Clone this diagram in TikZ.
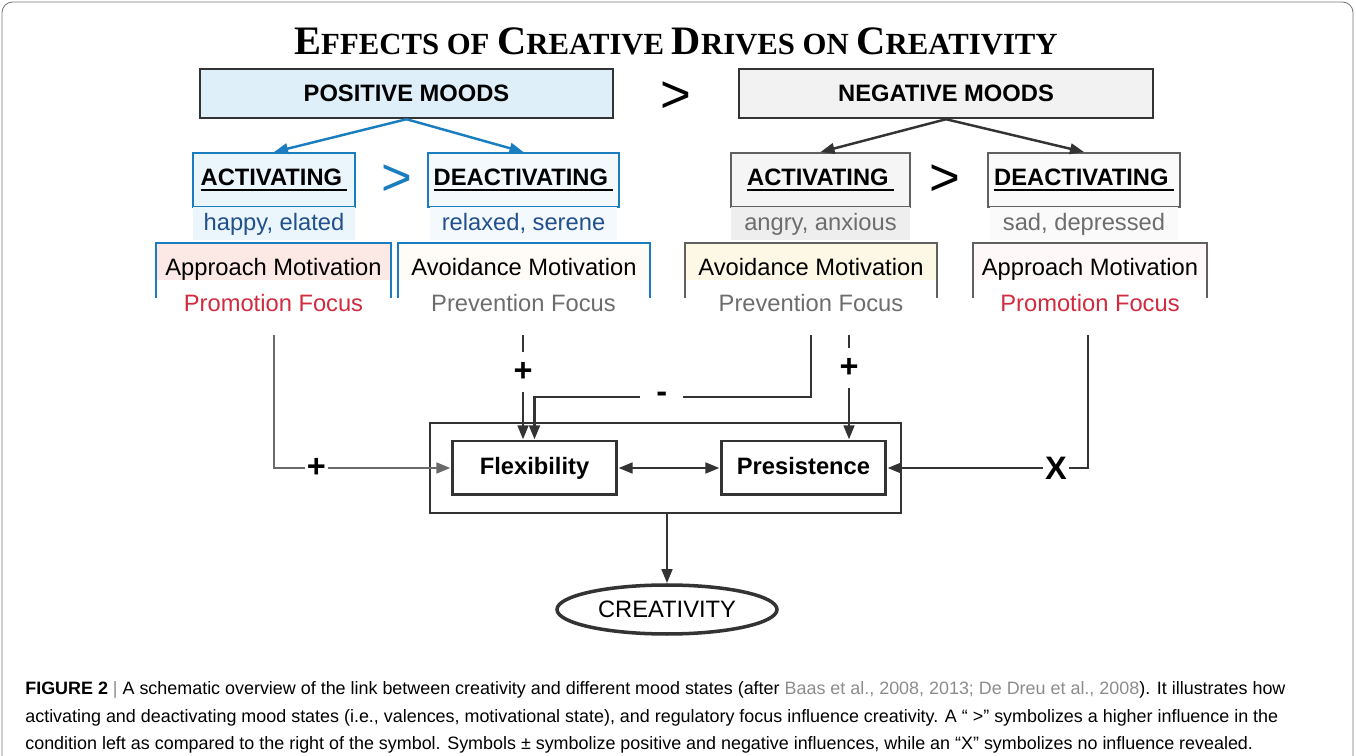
\documentclass[tikz,border=0pt]{standalone}
\usepackage{fontspec}
\setmainfont{Liberation Sans}
\newfontfamily\titlefont{Liberation Serif}
\usetikzlibrary{arrows.meta,shapes.geometric}

\definecolor{posblue}{RGB}{26,125,192}
\definecolor{posfill}{RGB}{223,239,249}
\definecolor{pactfill}{RGB}{234,245,252}
\definecolor{pdeacfill}{RGB}{243,249,253}
\definecolor{negfill}{RGB}{242,242,242}
\definecolor{nactfill}{RGB}{245,245,245}
\definecolor{nactadj}{RGB}{238,238,238}
\definecolor{ndeacfill}{RGB}{250,250,250}
\definecolor{approachpink}{RGB}{252,233,230}
\definecolor{avoidcream}{RGB}{255,252,248}
\definecolor{avoidyellow}{RGB}{253,248,229}
\definecolor{approachrose}{RGB}{254,249,248}
\definecolor{darkline}{RGB}{51,51,51}
\definecolor{midline}{RGB}{96,96,96}
\definecolor{leftline}{RGB}{106,106,106}
\definecolor{adjblue}{RGB}{33,80,140}
\definecolor{focusred}{RGB}{209,43,63}
\definecolor{focusgray}{RGB}{109,109,109}
\definecolor{citegray}{RGB}{140,140,140}
\definecolor{framegray}{RGB}{120,120,120}

% small caps by hand
\newcommand{\capword}[2]{{\fontsize{23}{26}\selectfont #1}{\fontsize{17.5}{20}\selectfont #2}}
% thick underline
\newcommand{\ulword}[1]{\setbox0\hbox{#1}\rlap{\raisebox{-3.2pt}{\rule{\wd0}{1.2pt}}}\box0}

\begin{document}
\begin{tikzpicture}[x=0.02cm,y=-0.02cm,
  >={Triangle[length=8pt,width=6pt]},
  txt/.style={font=\fontsize{13.5}{16}\selectfont},
  mood/.style={draw=darkline,line width=1.4pt,minimum height=0.98cm,font=\bfseries\fontsize{13.5}{16}\selectfont},
  valence/.style={line width=1.1pt,minimum height=1.08cm,font=\bfseries\fontsize{13.5}{16}\selectfont},
  adj/.style={txt,minimum height=0.66cm,inner sep=0pt,text height=9.8pt,text depth=1.8pt},
  motiv/.style={txt,minimum height=0.74cm,inner sep=0pt,text height=15.4pt,text depth=0pt},
  gt/.style={font=\fontsize{30}{32}\selectfont},
  stagebox/.style={draw=darkline,line width=1.7pt,minimum width=3.3cm,minimum height=1.08cm,text height=9.8pt,text depth=2.8pt,font=\bfseries\fontsize{13.5}{16}\selectfont},
  conn/.style={->,darkline,line width=1.6pt},
  sign/.style={fill=white,text=black,inner sep=1pt,font=\bfseries\fontsize{18.5}{20}\selectfont},
  captxt/.style={anchor=base west,inner sep=0pt,font=\fontsize{10.2}{12}\selectfont}
]
\useasboundingbox (0,0) rectangle (1356,756);
\draw[framegray,line width=0.5pt,rounded corners=6pt] (2,756) -- (2,2) -- (1353,2) -- (1353,756);

% title
\node[font=\titlefont\bfseries\fontsize{17.5}{20}\selectfont] (title) at (676,41)
  {\capword{E}{FFECTS} \capword{}{OF} \capword{C}{REATIVE} \capword{D}{RIVES} \capword{}{ON} \capword{C}{REATIVITY}};

% moods
\node[mood,fill=posfill,minimum width=8.26cm] (pos) at (406.5,93.5) {POSITIVE MOODS};
\node[mood,fill=negfill,minimum width=8.28cm] (neg) at (946,93.5) {NEGATIVE MOODS};
\node[gt] (gt1) at (676,97) {>};

% valence, positive side
\node[valence,draw=posblue,fill=pactfill,minimum width=3.24cm] (pact) at (274,180) {\ulword{ACTIVATING\kern3pt}};
\node[valence,draw=posblue,fill=pdeacfill,minimum width=3.74cm] (pdeac) at (523.5,180) {\ulword{DEACTIVATING\kern3pt}};
\node[gt,text=posblue] (gt2) at (397,180) {>};
\node[adj,fill=pactfill,text=adjblue,minimum width=3.24cm] (padj1) at (274,223.5) {happy, elated};
\node[adj,fill=pdeacfill,text=adjblue,minimum width=3.74cm] (padj2) at (523.5,223.5) {relaxed, serene};

% valence, negative side
\node[valence,draw=midline,fill=nactfill,minimum width=3.58cm] (nact) at (820.5,180) {\ulword{ACTIVATING\kern3pt}};
\node[valence,draw=midline,fill=ndeacfill,minimum width=3.76cm] (ndeac) at (1084,180) {\ulword{DEACTIVATING\kern3pt}};
\node[gt] (gt3) at (945,180) {>};
\node[adj,fill=nactadj,text=focusgray,minimum width=3.58cm] (nadj1) at (820.5,223.5) {angry, anxious};
\node[adj,fill=ndeacfill,text=focusgray,minimum width=3.76cm] (nadj2) at (1084,223.5) {sad, depressed};

\draw[->,posblue,line width=1.4pt] (pos.south) -- (pact.north);
\draw[->,posblue,line width=1.4pt] (pos.south) -- (pdeac.north);
\draw[->,darkline,line width=1.4pt] (neg.south) -- (nact.north);
\draw[->,darkline,line width=1.4pt] (neg.south) -- (ndeac.north);

% motivation
\node[motiv,fill=approachpink,minimum width=4.7cm] (pappr) at (273.5,261.5) {Approach Motivation};
\node[motiv,fill=avoidcream,minimum width=5.04cm] (pavoid) at (524,261.5) {Avoidance Motivation};
\node[motiv,fill=avoidyellow,minimum width=5.04cm] (navoid) at (811,261.5) {Avoidance Motivation};
\node[motiv,fill=approachrose,minimum width=4.68cm] (nappr) at (1090,261.5) {Approach Motivation};
\foreach \m/\c in {pappr/posblue,pavoid/posblue,navoid/midline,nappr/midline}
  \draw[\c,line width=1.1pt] ([yshift=-0.36cm]\m.south west) -- (\m.north west) -- (\m.north east) -- ([yshift=-0.36cm]\m.south east);

\node[txt,text=focusred] (pprom) at (273.5,303) {Promotion Focus};
\node[txt,text=focusgray] (pprev) at (523.5,303) {Prevention Focus};
\node[txt,text=focusgray] (nprev) at (811,303) {Prevention Focus};
\node[txt,text=focusred] (nprom) at (1090,303) {Promotion Focus};

% flexibility and persistence
\node[draw=darkline,line width=1.5pt,minimum width=9.42cm,minimum height=1.8cm] (cont) at (665.5,468) {};
\node[stagebox] (flex) at (534.5,468) {Flexibility};
\node[stagebox] (pers) at (803.5,468) {Presistence};
\node[draw=darkline,ellipse,line width=2pt,minimum width=4.4cm,minimum height=0.98cm,txt] (creat) at (667,609.5) {CREATIVITY};

\coordinate (s1) at (274,335);
\coordinate (s2) at (523,335);
\coordinate (s3) at (811,335);
\coordinate (s4) at (849,335);
\coordinate (s5) at (1088,335);

\draw[conn,leftline] (s1) |- node[sign,pos=0.62] {+} (flex.west);
\draw[conn] (s2) -- node[sign,pos=0.35,minimum height=0.8cm] {+} (s2 |- flex.north);
\draw[conn] (s3) |- node[sign,pos=0.77,minimum width=0.85cm] {-} (flex.north |- 0,397) -- (flex.north);
\draw[conn] (s4) -- node[sign,pos=0.32,minimum height=0.8cm] {+} (s4 |- pers.north);
\draw[conn] (s5) |- node[sign,pos=0.58] {X} (pers.east);
\draw[conn,<->] (flex.east) -- (pers.west);
\draw[conn] (creat.north |- cont.south) -- (creat.north);

% caption
\node[captxt] (cap1) at (25,694) {\textbf{FIGURE 2} {\color{citegray}|} A schematic overview of the link between creativity and different mood states (after {\color{citegray}Baas et al., 2008, 2013; De Dreu et al., 2008}). It illustrates how};
\node[captxt] (cap2) at (25,722) {activating and deactivating mood states (i.e., valences, motivational state), and regulatory focus influence creativity. A “ >” symbolizes a higher influence in the};
\node[captxt] (cap3) at (25,749) {condition left as compared to the right of the symbol. Symbols ± symbolize positive and negative influences, while an “X” symbolizes no influence revealed.};
\end{tikzpicture}
\end{document}
